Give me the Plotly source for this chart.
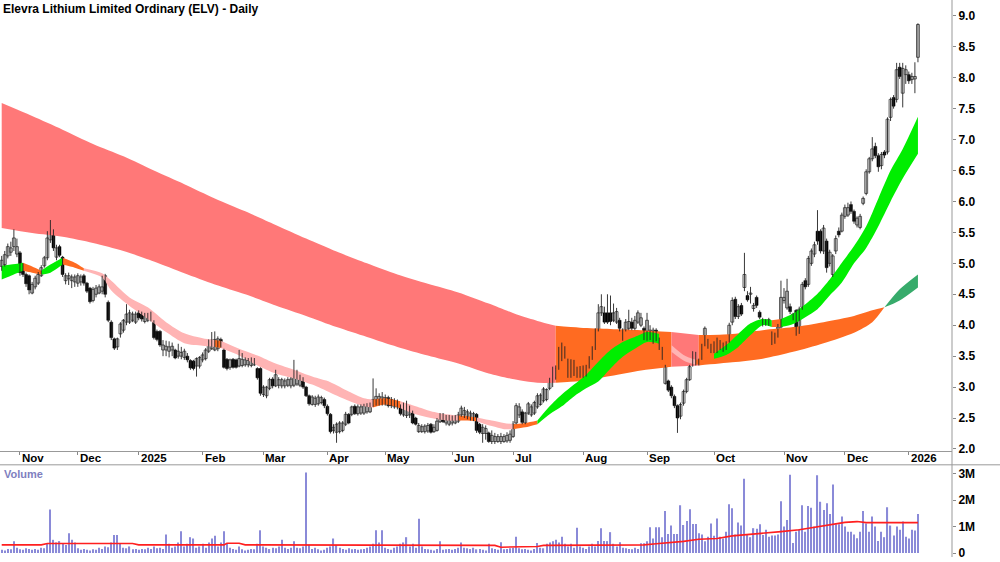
import pandas as pd
import plotly.graph_objects as go

# ---------------- trading calendar (categories) ----------------
HOLIDAYS = ['2024-12-25', '2024-12-26', '2025-01-01', '2025-01-27', '2025-04-18',
            '2025-04-21', '2025-04-25', '2025-06-09', '2025-12-25', '2025-12-26', '2026-01-01']
NO_TRADE = ['2024-11-18', '2024-11-19']
_skip = set(HOLIDAYS + NO_TRADE)
dates = [d for d in pd.bdate_range('2024-10-24', '2026-01-07') if d.strftime('%Y-%m-%d') not in _skip]

# ---------------- price data (A$) ----------------
opens = [
    4.95, 4.98, 5.12, 5.18, 5.27, 5.15,
    5.17, 4.95, 4.82, 4.80, 4.52, 4.62, 4.68, 4.80, 4.96, 5.09, 5.38, 5.50, 5.10, 5.27, 5.10, 4.72, 4.75, 4.72, 4.70,
    4.68, 4.70, 4.80, 4.68, 4.60, 4.40, 4.50, 4.52, 4.55, 4.80, 4.37, 4.05, 3.78, 3.65, 3.86, 3.92, 4.05, 4.05, 4.08, 4.05,
    4.20, 4.18, 4.06, 4.08, 4.10, 4.05, 3.90, 3.90, 3.60, 3.60, 3.58, 3.60, 3.60, 3.50, 3.50, 3.48, 3.50, 3.43, 3.42, 3.34, 3.34,
    3.44, 3.46, 3.58, 3.62, 3.60, 3.62, 3.77, 3.60, 3.45, 3.32, 3.45, 3.44, 3.34, 3.35, 3.36, 3.36, 3.35, 3.36, 3.30, 3.30,
    2.88, 2.86, 2.98, 3.13, 3.02, 3.03, 3.02, 3.02, 3.03, 3.02, 3.03, 3.05, 3.03, 3.14, 3.00, 2.86, 2.72, 2.72, 2.73, 2.75, 2.80,
    2.69, 2.56, 2.30, 2.27, 2.28, 2.30, 2.40, 2.56, 2.56, 2.69, 2.57, 2.58, 2.58, 2.60, 2.60, 2.70, 2.72, 2.72, 2.74,
    2.73, 2.83, 2.80, 2.68, 2.68, 2.69, 2.55, 2.54, 2.55, 2.60, 2.50, 2.28, 2.28, 2.28, 2.29, 2.40, 2.28, 2.30, 2.44, 2.56, 2.42, 2.40,
    2.42, 2.42, 2.45, 2.55, 2.55, 2.52, 2.50, 2.50, 2.56, 2.40, 2.25, 2.25, 2.26, 2.12, 2.12, 2.12, 2.12, 2.12, 2.13, 2.14,
    2.20, 2.42, 2.55, 2.60, 2.42, 2.58, 2.55, 2.58, 2.68, 2.72, 2.78, 2.80, 2.98, 3.10, 3.15, 3.30, 3.45, 3.62, 3.20, 3.20, 3.22, 3.30, 3.18,
    3.18, 3.20, 3.32, 3.46, 3.62, 3.92, 4.20, 4.20, 4.20, 4.20, 4.08, 4.05, 4.08, 3.92, 3.92, 3.95, 4.05, 3.95, 4.05, 4.00, 3.95,
    3.80, 3.80, 3.73, 3.92, 3.76, 3.62, 3.06, 3.10, 3.00, 2.85, 2.70, 2.53, 2.74, 2.93, 3.12, 3.36, 3.54, 3.44, 3.46, 3.70, 3.75, 3.68,
    3.58, 3.58, 3.73, 3.60, 3.62, 3.75, 4.05, 4.42, 4.14, 4.32, 4.61, 4.48, 4.50, 4.27, 4.45, 4.21, 4.02, 4.08, 4.09, 3.88, 3.72, 3.82, 3.97,
    4.40, 4.28, 4.30, 4.18, 4.24, 3.90, 4.29, 4.72, 4.66, 5.00, 5.15, 5.52, 5.52, 5.20, 5.36, 5.00, 4.82, 5.20, 5.52, 5.52,
    5.76, 5.78, 5.95, 5.84, 5.62, 5.58, 5.97, 6.13, 6.48, 6.69, 6.89, 6.74, 6.58, 6.80, 6.80, 7.36, 7.68, 7.65, 8.17, 7.75, 8.05,
    8.05, 7.97, 7.98, 8.33,
]
highs = [
    5.12, 5.20, 5.32, 5.35, 5.55, 5.40,
    5.20, 5.00, 4.85, 4.82, 4.70, 4.80, 4.86, 4.97, 5.12, 5.52, 5.70, 5.55, 5.30, 5.30, 5.12, 4.84, 4.85, 4.82, 4.82,
    4.84, 4.82, 4.83, 4.70, 4.62, 4.62, 4.65, 4.66, 4.80, 4.83, 4.40, 4.08, 3.80, 3.80, 4.05, 4.10, 4.34, 4.25, 4.22, 4.22,
    4.24, 4.22, 4.20, 4.20, 4.22, 4.08, 3.93, 3.92, 3.76, 3.75, 3.74, 3.72, 3.62, 3.70, 3.65, 3.62, 3.55, 3.45, 3.44, 3.48, 3.50,
    3.56, 3.63, 3.77, 3.89, 3.90, 3.82, 3.80, 3.62, 3.47, 3.46, 3.47, 3.46, 3.60, 3.55, 3.48, 3.47, 3.48, 3.47, 3.32, 3.32,
    3.03, 3.02, 3.15, 3.16, 3.28, 3.16, 3.15, 3.14, 3.16, 3.16, 3.44, 3.28, 3.20, 3.16, 3.02, 2.88, 2.87, 2.86, 2.88, 2.86, 2.83,
    2.72, 2.58, 2.40, 2.43, 2.45, 2.45, 2.60, 2.58, 2.70, 2.72, 2.72, 2.72, 2.73, 2.74, 2.75, 3.14, 2.98, 2.90, 2.92,
    2.88, 2.86, 2.84, 2.82, 2.80, 2.72, 2.75, 2.78, 2.70, 2.62, 2.52, 2.42, 2.40, 2.40, 2.42, 2.42, 2.40, 2.50, 2.58, 2.58, 2.55, 2.55,
    2.54, 2.55, 2.60, 2.70, 2.68, 2.64, 2.62, 2.60, 2.58, 2.42, 2.40, 2.38, 2.28, 2.30, 2.26, 2.24, 2.26, 2.24, 2.27, 2.30,
    2.45, 2.74, 2.74, 2.64, 2.60, 2.76, 2.72, 2.78, 2.90, 2.90, 3.00, 2.98, 3.15, 3.33, 3.35, 3.65, 3.72, 3.66, 3.46, 3.45, 3.44, 3.33, 3.34,
    3.35, 3.36, 3.50, 3.66, 3.95, 4.34, 4.50, 4.30, 4.50, 4.48, 4.35, 4.28, 4.12, 3.95, 4.10, 4.25, 4.12, 4.15, 4.24, 4.20, 3.98,
    4.20, 4.00, 3.96, 3.95, 3.80, 3.65, 3.36, 3.12, 3.03, 2.88, 2.72, 2.75, 2.96, 3.15, 3.36, 3.58, 3.57, 3.46, 3.70, 3.98, 3.78, 3.70,
    3.74, 3.80, 3.76, 3.72, 3.74, 4.04, 4.45, 4.46, 4.34, 4.36, 5.17, 4.55, 4.62, 4.36, 4.48, 4.24, 4.12, 4.10, 4.12, 3.90, 3.88, 4.02, 4.72,
    4.60, 4.75, 4.35, 4.20, 4.26, 4.30, 4.70, 4.76, 5.12, 5.24, 5.35, 5.86, 5.55, 5.62, 5.40, 5.22, 5.15, 5.45, 5.58, 5.82,
    5.95, 5.98, 6.00, 5.87, 5.76, 5.80, 6.08, 6.52, 6.72, 7.04, 6.95, 6.78, 6.80, 6.83, 7.36, 7.68, 7.72, 8.24, 8.24, 8.24, 8.20,
    8.10, 8.08, 8.25, 8.88,
]
lows = [
    4.88, 4.95, 5.08, 5.12, 5.20, 5.10,
    4.80, 4.78, 4.62, 4.50, 4.50, 4.58, 4.65, 4.78, 4.93, 5.05, 5.33, 5.20, 5.05, 5.10, 4.78, 4.66, 4.65, 4.60, 4.62,
    4.62, 4.64, 4.64, 4.52, 4.35, 4.37, 4.45, 4.50, 4.50, 4.45, 4.05, 3.76, 3.60, 3.60, 3.80, 3.88, 4.00, 4.02, 4.05, 4.02,
    4.08, 4.06, 4.03, 4.05, 4.06, 3.77, 3.74, 3.65, 3.50, 3.50, 3.48, 3.50, 3.45, 3.46, 3.45, 3.44, 3.40, 3.28, 3.27, 3.17, 3.30,
    3.40, 3.43, 3.55, 3.60, 3.58, 3.58, 3.64, 3.30, 3.27, 3.28, 3.30, 3.30, 3.32, 3.32, 3.33, 3.32, 3.32, 3.34, 3.12, 2.86,
    2.84, 2.82, 2.95, 2.98, 3.00, 2.98, 2.98, 2.98, 3.00, 2.98, 3.00, 3.02, 3.00, 2.97, 2.84, 2.70, 2.70, 2.68, 2.70, 2.72, 2.66,
    2.54, 2.25, 2.25, 2.10, 2.25, 2.27, 2.37, 2.40, 2.53, 2.55, 2.54, 2.55, 2.55, 2.57, 2.58, 2.68, 2.70, 2.70, 2.70,
    2.70, 2.67, 2.66, 2.65, 2.64, 2.54, 2.52, 2.50, 2.50, 2.40, 2.38, 2.26, 2.26, 2.25, 2.26, 2.25, 2.26, 2.28, 2.42, 2.42, 2.38, 2.37,
    2.38, 2.40, 2.42, 2.52, 2.50, 2.48, 2.46, 2.45, 2.26, 2.24, 2.10, 2.15, 2.10, 2.08, 2.08, 2.10, 2.08, 2.10, 2.10, 2.10,
    2.18, 2.40, 2.50, 2.40, 2.40, 2.55, 2.52, 2.55, 2.65, 2.70, 2.75, 2.77, 2.95, 3.00, 3.12, 3.28, 3.42, 3.46, 3.15, 3.15, 3.18, 3.15, 3.15,
    3.15, 3.17, 3.30, 3.44, 3.60, 3.90, 4.15, 4.02, 4.02, 4.00, 4.05, 4.02, 3.90, 3.75, 3.90, 3.92, 3.92, 3.92, 4.02, 3.97, 3.76,
    3.75, 3.76, 3.70, 3.74, 3.60, 3.44, 3.04, 2.92, 2.82, 2.66, 2.26, 2.48, 2.70, 2.90, 3.10, 3.33, 3.35, 3.35, 3.44, 3.66, 3.62, 3.55,
    3.55, 3.55, 3.60, 3.57, 3.60, 3.72, 4.00, 4.10, 4.10, 4.15, 4.55, 4.38, 4.35, 4.22, 4.28, 4.10, 3.98, 3.99, 3.99, 3.68, 3.70, 3.80, 3.95,
    4.35, 4.25, 4.18, 4.08, 3.83, 3.86, 4.25, 4.58, 4.62, 4.96, 5.10, 5.30, 5.16, 5.15, 4.85, 4.95, 4.78, 5.15, 5.42, 5.50,
    5.72, 5.75, 5.80, 5.64, 5.58, 5.55, 5.94, 6.10, 6.45, 6.65, 6.70, 6.48, 6.52, 6.70, 6.76, 7.30, 7.50, 7.60, 7.98, 7.52, 7.90,
    7.90, 7.90, 7.75, 8.25,
]
closes = [
    5.05, 5.14, 5.27, 5.25, 5.41, 5.27,
    4.85, 4.82, 4.67, 4.57, 4.66, 4.76, 4.82, 4.93, 5.09, 5.41, 5.57, 5.25, 5.25, 5.13, 4.82, 4.80, 4.80, 4.78, 4.78,
    4.80, 4.78, 4.68, 4.55, 4.38, 4.58, 4.60, 4.62, 4.62, 4.50, 4.08, 3.80, 3.63, 3.78, 4.02, 4.08, 4.18, 4.20, 4.18, 4.18,
    4.12, 4.10, 4.16, 4.17, 4.18, 3.80, 3.77, 3.68, 3.68, 3.66, 3.65, 3.66, 3.47, 3.58, 3.56, 3.58, 3.44, 3.31, 3.30, 3.46, 3.48,
    3.52, 3.60, 3.74, 3.76, 3.77, 3.78, 3.66, 3.32, 3.30, 3.44, 3.32, 3.32, 3.46, 3.45, 3.44, 3.43, 3.44, 3.44, 3.15, 2.90,
    3.00, 3.00, 3.12, 3.02, 3.20, 3.12, 3.12, 3.10, 3.12, 3.13, 3.20, 3.20, 3.12, 3.00, 2.86, 2.73, 2.84, 2.82, 2.84, 2.83, 2.70,
    2.57, 2.28, 2.35, 2.40, 2.42, 2.42, 2.56, 2.42, 2.68, 2.57, 2.68, 2.68, 2.70, 2.70, 2.72, 2.80, 2.85, 2.85, 2.84,
    2.83, 2.70, 2.70, 2.78, 2.76, 2.57, 2.65, 2.64, 2.64, 2.42, 2.40, 2.38, 2.36, 2.37, 2.38, 2.27, 2.35, 2.45, 2.55, 2.44, 2.50, 2.52,
    2.50, 2.52, 2.55, 2.66, 2.62, 2.60, 2.58, 2.57, 2.30, 2.27, 2.35, 2.33, 2.12, 2.22, 2.20, 2.20, 2.20, 2.20, 2.22, 2.24,
    2.40, 2.70, 2.68, 2.43, 2.58, 2.73, 2.68, 2.75, 2.86, 2.87, 2.97, 2.96, 3.08, 3.30, 3.30, 3.62, 3.62, 3.50, 3.42, 3.40, 3.40, 3.18, 3.30,
    3.32, 3.32, 3.46, 3.62, 3.92, 4.20, 4.30, 4.05, 4.05, 4.06, 4.20, 4.22, 3.95, 3.78, 4.05, 4.06, 3.95, 4.08, 4.20, 4.12, 3.80,
    4.08, 3.92, 3.92, 3.78, 3.62, 3.46, 3.33, 2.95, 2.86, 2.70, 2.50, 2.72, 2.93, 3.12, 3.33, 3.54, 3.38, 3.38, 3.66, 3.95, 3.65, 3.60,
    3.70, 3.75, 3.62, 3.68, 3.70, 4.00, 4.40, 4.14, 4.30, 4.18, 4.82, 4.41, 4.52, 4.32, 4.32, 4.13, 4.09, 4.02, 4.02, 3.71, 3.85, 3.97, 4.45,
    4.45, 4.55, 4.22, 4.12, 3.88, 4.26, 4.66, 4.62, 5.08, 5.20, 5.30, 5.36, 5.20, 5.57, 4.93, 5.18, 5.12, 5.40, 5.46, 5.78,
    5.90, 5.90, 5.84, 5.68, 5.73, 5.76, 6.05, 6.48, 6.69, 6.85, 6.74, 6.56, 6.76, 6.75, 7.33, 7.65, 7.54, 8.13, 8.02, 8.15, 8.13,
    7.95, 8.02, 8.02, 8.86,
]

# ---------------- volume (millions of shares) ----------------
volume_m = [
    0.12, 0.10, 0.15, 0.14, 0.45, 0.20,
    0.14, 0.12, 0.18, 0.15, 0.12, 0.15, 0.12, 0.20, 0.18, 0.35, 1.65, 0.50, 0.40, 0.45, 0.38, 0.30, 0.75, 0.50, 0.40,
    0.18, 0.12, 0.15, 0.12, 0.10, 0.14, 0.12, 0.20, 0.15, 0.25, 0.22, 0.40, 0.68, 0.68, 0.35, 0.20, 0.18, 0.25, 0.14, 0.15,
    0.12, 0.15, 0.14, 0.20, 0.15, 0.25, 0.18, 0.20, 0.15, 0.70, 0.35, 0.20, 0.25, 0.40, 0.82, 0.25, 0.35, 0.60, 0.55, 0.20, 0.25,
    0.35, 0.20, 0.40, 0.55, 0.65, 0.25, 0.40, 0.82, 0.35, 0.20, 0.15, 0.12, 0.25, 0.14, 0.10, 0.12, 0.15, 0.14, 0.35, 0.86,
    0.25, 0.20, 0.15, 0.20, 0.18, 0.25, 0.50, 0.20, 0.15, 0.20, 0.45, 0.20, 0.18, 0.25, 3.05, 0.30, 0.15, 0.20, 0.14, 0.10, 0.12,
    0.20, 0.25, 0.55, 0.30, 0.20, 0.15, 0.12, 0.18, 0.14, 0.15, 0.12, 0.14, 0.15, 0.20, 0.25, 0.35, 0.86, 0.40, 0.86,
    0.20, 0.15, 0.12, 0.20, 0.25, 0.35, 0.40, 0.60, 0.25, 0.35, 0.20, 1.30, 0.25, 0.15, 0.14, 0.12, 0.10, 0.15, 0.45, 0.12, 0.14, 0.15,
    0.12, 0.15, 0.20, 0.40, 0.20, 0.18, 0.15, 0.20, 0.14, 0.15, 0.12, 0.10, 0.35, 0.18, 0.15, 0.12, 0.41, 0.14, 0.15, 0.18,
    0.20, 0.62, 0.18, 0.14, 0.15, 0.12, 0.10, 0.15, 0.38, 0.20, 0.18, 0.35, 0.40, 0.45, 0.50, 0.40, 0.62, 0.35, 0.25, 0.35, 0.20, 0.96, 0.25,
    0.20, 0.15, 0.25, 0.35, 0.25, 0.46, 0.94, 0.46, 0.45, 0.79, 0.35, 0.25, 0.41, 0.20, 0.18, 0.15, 0.14, 0.20, 0.15, 0.37, 0.37,
    0.45, 0.98, 0.55, 0.98, 0.98, 0.60, 1.59, 0.72, 1.04, 0.72, 0.72, 1.81, 1.06, 1.21, 1.66, 1.10, 1.10, 0.75, 0.70, 0.45, 0.62, 1.12,
    0.65, 1.31, 0.62, 0.55, 0.81, 1.85, 1.69, 0.70, 1.16, 1.04, 2.81, 0.70, 0.60, 0.94, 0.92, 1.09, 0.68, 0.88, 0.62, 0.66, 0.66, 0.70, 1.96,
    1.00, 1.25, 2.96, 0.38, 0.81, 0.90, 1.81, 0.81, 1.78, 1.71, 1.00, 2.94, 1.94, 1.63, 1.88, 1.48, 2.59, 1.09, 1.09, 1.38,
    1.00, 0.81, 0.81, 0.70, 0.56, 0.81, 1.59, 1.12, 0.81, 1.38, 1.00, 0.46, 0.81, 0.60, 1.73, 1.04, 0.66, 1.00, 0.88, 1.19, 0.62,
    0.55, 0.88, 0.85, 1.48,
]
# volume moving-average line (bar index, millions)
vol_ma_idx = [0, 13, 15, 43, 45, 73, 74, 78, 80, 144, 146, 162, 164, 176, 178, 189, 211, 215, 224, 229,
              235, 240, 251, 256, 262, 268, 273, 277, 281, 284, 301]
vol_ma_m = [0.31, 0.31, 0.36, 0.36, 0.31, 0.31, 0.37, 0.37, 0.31, 0.31, 0.29, 0.29, 0.22, 0.25, 0.29, 0.30,
            0.31, 0.35, 0.44, 0.52, 0.55, 0.65, 0.75, 0.81, 0.88, 1.00, 1.09, 1.16, 1.19, 1.15, 1.15]

# ---------------- long-term MA ribbon (edges at sample bars) ----------------
long_idx = [0, 10, 20, 30, 40, 50, 60, 70, 80, 90, 100, 110, 120, 130, 140, 150, 160, 170, 176, 182,
            190, 200, 210, 220, 229, 240, 250, 260, 270, 280, 286, 290, 295, 301]
long_top = [7.59, 7.38, 7.16, 6.93, 6.73, 6.50, 6.28, 6.05, 5.84, 5.62, 5.40, 5.19, 5.00, 4.82, 4.67, 4.53,
            4.35, 4.16, 4.07, 3.99, 3.96, 3.94, 3.92, 3.89, 3.84, 3.86, 3.92, 3.97, 4.05, 4.15, 4.24, 4.29, 4.58, 4.82]
long_bot = [5.57, 5.49, 5.43, 5.33, 5.20, 5.03, 4.84, 4.66, 4.50, 4.32, 4.15, 3.97, 3.81, 3.65, 3.51, 3.38,
            3.22, 3.11, 3.07, 3.07, 3.10, 3.18, 3.27, 3.33, 3.35, 3.40, 3.46, 3.57, 3.71, 3.88, 4.05, 4.29, 4.40, 4.61]

# ---------------- short-term MA ribbon ----------------
short_idx = [0, 3, 7, 10, 13, 16, 20, 24, 27, 33, 36, 42, 48, 54, 60, 66, 70, 72, 78, 84, 90, 96, 102, 108,
             114, 119, 122, 126, 131, 136, 141, 146, 150, 153, 156, 161, 165, 168, 172, 176, 180, 184, 188,
             192, 196, 200, 204, 208, 212, 216, 220, 224, 228, 231, 234, 238, 242, 246, 250, 253, 256, 260,
             264, 268, 272, 276, 280, 284, 288, 292, 296, 301]
short_top = [4.96, 4.98, 5.01, 4.95, 4.88, 4.98, 5.09, 5.01, 4.92, 4.84, 4.72, 4.45, 4.29, 4.05, 3.87, 3.79,
             3.76, 3.75, 3.62, 3.51, 3.38, 3.28, 3.17, 3.08, 2.93, 2.82, 2.80, 2.82, 2.77, 2.69, 2.61, 2.56,
             2.54, 2.53, 2.51, 2.46, 2.42, 2.40, 2.42, 2.46, 2.69, 2.88, 3.04, 3.20, 3.41, 3.60, 3.73, 3.81,
             3.89, 3.86, 3.68, 3.52, 3.44, 3.47, 3.54, 3.68, 3.86, 4.03, 4.10, 4.08, 4.10, 4.19, 4.34, 4.51,
             4.74, 5.01, 5.28, 5.60, 6.05, 6.50, 6.85, 7.37]
short_bot = [4.74, 4.80, 4.88, 4.85, 4.82, 4.85, 4.98, 4.93, 4.88, 4.77, 4.56, 4.31, 4.10, 3.89, 3.71, 3.67,
             3.65, 3.63, 3.51, 3.35, 3.22, 3.14, 3.04, 2.91, 2.78, 2.69, 2.67, 2.72, 2.66, 2.56, 2.50, 2.46,
             2.46, 2.46, 2.45, 2.37, 2.32, 2.32, 2.35, 2.40, 2.56, 2.69, 2.85, 2.98, 3.09, 3.30, 3.49, 3.62,
             3.73, 3.70, 3.57, 3.43, 3.36, 3.39, 3.46, 3.52, 3.65, 3.84, 4.00, 3.97, 3.97, 4.02, 4.13, 4.26,
             4.48, 4.69, 5.00, 5.25, 5.60, 6.00, 6.37, 6.77]

# ---------------- styles ----------------
RED = '#ff7878'
ORANGE = '#ff6b21'
DKGREEN = '#37ab6b'
GREEN = '#00ee00'
PINK = '#ffb4b4'
long_style = [(0, 182, RED), (182, 220, ORANGE), (220, 229, RED), (229, 290, ORANGE), (290, 301, DKGREEN)]
short_style = [(0, 7, GREEN), (7, 13, ORANGE), (13, 20, GREEN), (20, 27, ORANGE), (27, 70, PINK),
               (70, 72, ORANGE), (72, 122, PINK), (122, 131, ORANGE), (131, 150, PINK), (150, 156, ORANGE),
               (156, 168, PINK), (168, 176, ORANGE), (176, 216, GREEN), (216, 220, ORANGE), (220, 228, PINK),
               (228, 234, ORANGE), (234, 253, GREEN), (253, 256, ORANGE), (256, 301, GREEN)]

W, H = 1000, 562
PLOT_R = 952          # right edge of plotting area (px)
PRICE_BOTTOM = 455    # px
VOL_TOP = 470         # px
FONT = 'Liberation Sans, Arial, sans-serif'

idx = list(range(len(dates)))
fig = go.Figure()


def add_ribbon(xs, top, bot, styles):
    for s, e, col in styles:
        sel = [k for k, v in enumerate(xs) if s <= v <= e]
        xx = [xs[k] for k in sel]
        fig.add_trace(go.Scatter(x=xx, y=[bot[k] for k in sel], mode='lines',
                                 line=dict(width=0, shape='spline', smoothing=0.8),
                                 hoverinfo='skip', showlegend=False, xaxis='x', yaxis='y'))
        fig.add_trace(go.Scatter(x=xx, y=[top[k] for k in sel], mode='lines',
                                 line=dict(width=0, shape='spline', smoothing=0.8),
                                 fill='tonexty', fillcolor=col,
                                 hoverinfo='skip', showlegend=False, xaxis='x', yaxis='y'))


add_ribbon(long_idx, long_top, long_bot, long_style)
add_ribbon(short_idx, short_top, short_bot, short_style)

# ---- candles: wicks (one path) + bodies (bars with base) ----
wx, wy = [], []
for i in idx:
    wx += [i, i, None]
    wy += [lows[i], highs[i], None]
fig.add_trace(go.Scatter(x=wx, y=wy, mode='lines', line=dict(color='#222222', width=0.9),
                         hoverinfo='skip', showlegend=False, xaxis='x', yaxis='y'))

MIN_BODY = 0.012
up = [i for i in idx if closes[i] >= opens[i]]
dn = [i for i in idx if closes[i] < opens[i]]
fig.add_trace(go.Bar(x=up, base=[opens[i] for i in up],
                     y=[max(closes[i] - opens[i], MIN_BODY) for i in up], width=0.95,
                     marker=dict(color='#ffffff', line=dict(color='#333333', width=0.8)),
                     hoverinfo='skip', showlegend=False, xaxis='x', yaxis='y'))
fig.add_trace(go.Bar(x=dn, base=[closes[i] for i in dn],
                     y=[max(opens[i] - closes[i], MIN_BODY) for i in dn], width=0.95,
                     marker=dict(color='#000000', line=dict(color='#000000', width=0.5)),
                     hoverinfo='skip', showlegend=False, xaxis='x', yaxis='y'))

fig.add_trace(go.Bar(x=idx, y=[v * 1e6 for v in volume_m], width=0.38,
                     marker=dict(color='#8a8ad8', line=dict(width=0)),
                     showlegend=False, xaxis='x2', yaxis='y2', hoverinfo='skip'))
fig.add_trace(go.Scatter(x=vol_ma_idx, y=[v * 1e6 for v in vol_ma_m], mode='lines',
                         line=dict(color='#ff1f1f', width=1.6), showlegend=False,
                         xaxis='x2', yaxis='y2', hoverinfo='skip'))

# month ticks from the calendar
tick_idx, tick_txt = [], []
for k in range(1, len(dates)):
    if dates[k].month != dates[k - 1].month:
        tick_idx.append(k)
        tick_txt.append(str(dates[k].year) if dates[k].month == 1 else dates[k].strftime('%b'))

# x range so that bar 0 sits ~2px from the left and the axis line at PLOT_R
px_per_bar = 3.044
x0 = -1.7 / px_per_bar
x1 = (PLOT_R - 1.7) / px_per_bar

price_lo = 2.0 - (PRICE_BOTTOM - 453) / 62.43
price_hi = 2.0 + 453 / 62.43
vol_lo = -(H - 558) / 26.67 * 1e6
vol_hi = (558 - VOL_TOP) / 26.67 * 1e6

pticks = [2.0 + 0.5 * k for k in range(15)]

fig.update_layout(
    width=W, height=H, margin=dict(l=0, r=W - PLOT_R, t=0, b=0),
    paper_bgcolor='white', plot_bgcolor='white', barmode='overlay',
    font=dict(family=FONT, color='black'),
    xaxis=dict(domain=[0, 1], range=[x0, x1], anchor='y', showgrid=False, zeroline=False,
               tickvals=tick_idx, showticklabels=False, ticks='outside', ticklen=3,
               tickcolor='#888888', showline=True, linecolor='#999999', linewidth=1,
               fixedrange=True),
    yaxis=dict(domain=[1 - PRICE_BOTTOM / H, 1], range=[price_lo, price_hi], anchor='x', side='right',
               showgrid=False, zeroline=False, tickvals=pticks, ticktext=['%.1f' % t for t in pticks],
               ticks='outside', ticklen=3, tickcolor='#888888', showline=False,
               tickfont=dict(size=12, weight='bold'), fixedrange=True),
    xaxis2=dict(domain=[0, 1], range=[x0, x1], anchor='y2', showgrid=False, zeroline=False,
                showticklabels=False, ticks='', showline=False, fixedrange=True),
    yaxis2=dict(domain=[0, 1 - VOL_TOP / H], range=[vol_lo, vol_hi], anchor='x2', side='right',
                showgrid=False, zeroline=False, tickvals=[0, 1e6, 2e6, 3e6], ticktext=['0', '1M', '2M', '3M'],
                ticks='outside', ticklen=3, tickcolor='#888888', showline=False,
                tickfont=dict(size=12, weight='bold'), fixedrange=True),
    shapes=[
        dict(type='line', xref='paper', yref='paper', x0=1, x1=1, y0=0, y1=1,
             line=dict(color='#999999', width=1)),
        dict(type='line', xref='paper', yref='paper', x0=0, x1=W / PLOT_R,
             y0=1 - 469 / H, y1=1 - 469 / H, line=dict(color='#999999', width=1)),
    ],
)

annotations = [
    dict(text='Elevra Lithium Limited Ordinary (ELV) - Daily', xref='paper', yref='paper',
         x=0.0015, y=1 - 9 / H, xanchor='left', yanchor='middle', showarrow=False,
         font=dict(family='Liberation Sans Narrow, Arial Narrow, ' + FONT, size=12, weight='bold', color='black')),
    dict(text='Volume', xref='paper', yref='paper', x=0.002, y=1 - 478 / H, xanchor='left',
         yanchor='middle', showarrow=False,
         font=dict(family=FONT, size=11, weight='bold', color='#8080c0')),
]
for k, t in zip(tick_idx, tick_txt):
    annotations.append(dict(text=t, xref='x', yref='paper', x=k, y=1 - 462.5 / H, xanchor='left',
                            yanchor='middle', showarrow=False,
                            font=dict(family=FONT, size=11.5, weight='bold', color='black')))
fig.update_layout(annotations=annotations)

fig.write_html('out.html')
